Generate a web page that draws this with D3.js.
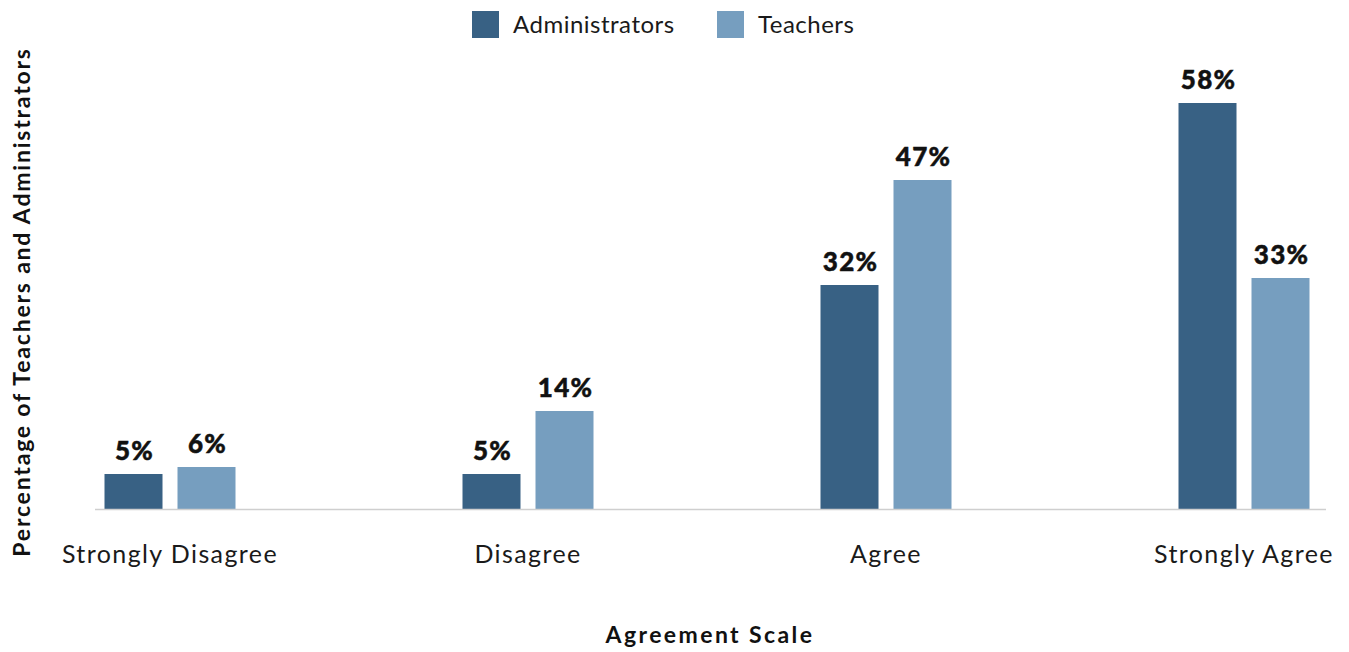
<!DOCTYPE html>
<html>
<head>
<meta charset="utf-8">
<script src="https://cdn.jsdelivr.net/npm/d3@7/dist/d3.min.js"></script>
<style>
  html, body { margin: 0; padding: 0; background: #fff; }
  svg { display: block; font-family: Lato, "Open Sans", sans-serif; }
</style>
</head>
<body>
<svg id="chart" width="1349" height="652"></svg>
<script>
// Survey responses by agreement level
const categories = ["Strongly Disagree", "Disagree", "Agree", "Strongly Agree"];
const seriesNames = ["Administrators", "Teachers"];
const administrators = [5, 5, 32, 58];
const teachers = [6, 14, 47, 33];
const seriesColors = ["#386184", "#769ebf"];

const svg = d3.select("#chart");
const baseY = 509;

const x = d3.scalePoint().domain(categories).range([170, 1244]);
const y = d3.scaleLinear().domain([0, 60]).range([baseY, 89]);

const barW = 58, gap = 15;
const offset = d3.scaleOrdinal().domain(seriesNames)
  .range([-(gap / 2) - barW, gap / 2]);

const rows = [];
categories.forEach((c, i) => {
  rows.push({ cat: c, series: "Administrators", value: administrators[i] });
  rows.push({ cat: c, series: "Teachers", value: teachers[i] });
});
const color = d3.scaleOrdinal().domain(seriesNames).range(seriesColors);

// bars
svg.append("g").selectAll("rect").data(rows).join("rect")
  .attr("x", d => x(d.cat) + offset(d.series))
  .attr("y", d => y(d.value))
  .attr("width", barW)
  .attr("height", d => baseY - y(d.value))
  .attr("fill", d => color(d.series));

// value labels
svg.append("g").selectAll("text").data(rows).join("text")
  .attr("x", d => x(d.cat) + offset(d.series) + barW / 2 + 1)
  .attr("y", d => y(d.value) - 14)
  .attr("text-anchor", "middle")
  .attr("font-size", 26)
  .attr("font-weight", 900)
  .attr("letter-spacing", 1.2)
  .attr("stroke", "#111").attr("stroke-width", 0.5)
  .attr("fill", "#111")
  .text(d => d.value + "%");

// baseline
svg.append("line")
  .attr("x1", 95).attr("x2", 1326)
  .attr("y1", baseY + 0.5).attr("y2", baseY + 0.5)
  .attr("stroke", "#cfcfcf").attr("stroke-width", 1.5);

// category labels
svg.append("g").selectAll("text").data(categories).join("text")
  .attr("x", d => x(d))
  .attr("y", 563)
  .attr("text-anchor", "middle")
  .attr("font-size", 25)
  .attr("letter-spacing", 1.4)
  .attr("fill", "#1a1a1a")
  .text(d => d);

// axis titles
svg.append("text")
  .attr("x", 710).attr("y", 643)
  .attr("text-anchor", "middle")
  .attr("font-size", 23).attr("font-weight", 700)
  .attr("letter-spacing", 2.4)
  .attr("fill", "#111")
  .text("Agreement Scale");

svg.append("text")
  .attr("transform", "translate(30,302) rotate(-90)")
  .attr("text-anchor", "middle")
  .attr("font-size", 23).attr("font-weight", 700)
  .attr("letter-spacing", 1.8)
  .attr("fill", "#111")
  .text("Percentage of Teachers and Administrators");

// legend
const legendX = [472, 717];
const legend = svg.append("g").selectAll("g").data(seriesNames).join("g")
  .attr("transform", (d, i) => `translate(${legendX[i]},11)`);
legend.append("rect").attr("width", 27).attr("height", 27)
  .attr("fill", d => color(d));
legend.append("text").attr("x", 41).attr("y", 22)
  .attr("font-size", 24).attr("letter-spacing", 0.5)
  .attr("fill", "#1a1a1a")
  .text(d => d);
</script>
</body>
</html>
